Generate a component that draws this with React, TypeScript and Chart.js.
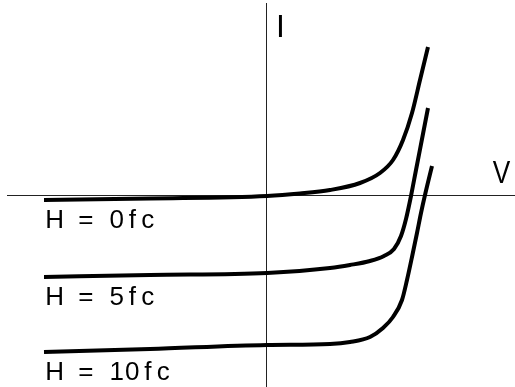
import React, { useEffect, useRef } from "react";
import { Chart, registerables } from "chart.js";

Chart.register(...registerables);

// Series labels
const seriesLabels = ["H = 0fc", "H = 5fc", "H = 10fc"];
const axisLabelI = "I";
const axisLabelV = "V";

// H = 0fc
const volt0 = [-2.23, -1.17, 0, 0.33, 0.63, 0.93, 1.13, 1.26, 1.36, 1.45, 1.53, 1.61];
const curr0 = [-0.04, -0.025, 0, 0.025, 0.06, 0.13, 0.23, 0.36, 0.56, 0.83, 1.16, 1.49];

// H = 5fc
const volt5 = [-2.23, -1.17, 0, 0.63, 0.83, 1.03, 1.17, 1.27, 1.34, 1.39, 1.44, 1.49, 1.55, 1.61];
const curr5 = [-0.81, -0.79, -0.77, -0.72, -0.69, -0.65, -0.6, -0.53, -0.4, -0.23, 0, 0.26, 0.57, 0.88];

// H = 10fc
const volt10 = [-2.23, -1.17, 0, 0.63, 0.83, 1.03, 1.16, 1.26, 1.35, 1.4, 1.45, 1.5, 1.54, 1.58, 1.65];
const curr10 = [-1.56, -1.53, -1.49, -1.48, -1.46, -1.41, -1.32, -1.21, -1.04, -0.84, -0.61, -0.37, -0.17, 0.01, 0.3];

const xMin = -2.6;
const xMax = 2.48;
const yMin = -1.91;
const yMax = 1.93;

const volts = [volt0, volt5, volt10];
const currs = [curr0, curr5, curr10];

export default function App() {
  const ref = useRef<HTMLCanvasElement | null>(null);

  useEffect(() => {
    if (!ref.current) return;

    const datasets = volts.map((v, s) => ({
      label: seriesLabels[s],
      data: v.map((x, k) => ({ x, y: currs[s][k] })),
      borderColor: "#000",
      borderWidth: 4,
      borderCapStyle: "butt" as const,
      pointRadius: 0,
      fill: false,
      cubicInterpolationMode: "monotone" as const,
    }));

    const decor = {
      id: "decor",
      beforeDatasetsDraw(chart: any) {
        const { ctx, chartArea, scales } = chart;
        const x0 = Math.round(scales.x.getPixelForValue(0)) - 0.5;
        const y0 = Math.round(scales.y.getPixelForValue(0)) - 0.5;
        ctx.save();
        ctx.strokeStyle = "#222";
        ctx.lineWidth = 1;
        ctx.beginPath();
        ctx.moveTo(chartArea.left, y0);
        ctx.lineTo(chartArea.right, y0);
        ctx.moveTo(x0, chartArea.top);
        ctx.lineTo(x0, chartArea.bottom);
        ctx.stroke();
        ctx.restore();
      },
      afterDatasetsDraw(chart: any) {
        const { ctx, chartArea, scales } = chart;
        ctx.save();
        ctx.fillStyle = "#000";
        ctx.textBaseline = "alphabetic";
        ctx.textAlign = "center";
        // series labels, monospaced cells
        ctx.font = "26px 'Liberation Sans', Arial, sans-serif";
        const pitch = 15.5;
        seriesLabels.forEach((lab, s) => {
          const px = scales.x.getPixelForValue(volts[s][0]) + 3;
          const py = scales.y.getPixelForValue(currs[s][0]) + 28;
          for (let k = 0; k < lab.length; k++) {
            const ch = lab[k];
            if (ch === " ") continue;
            ctx.fillText(ch, px + (k + 0.5) * pitch, py);
          }
        });
        // axis labels
        ctx.font = "32px 'Liberation Sans', Arial, sans-serif";
        const ax = scales.x.getPixelForValue(0);
        const ay = scales.y.getPixelForValue(0);
        ctx.fillText(axisLabelI, ax + 13.5, chartArea.top + 34);
        ctx.save();
        ctx.translate(chartArea.right - 13.5, ay - 13);
        ctx.scale(0.82, 1);
        ctx.fillText(axisLabelV, 0, 0);
        ctx.restore();
        ctx.restore();
      },
    };

    const chart = new Chart(ref.current, {
      type: "line",
      data: { datasets },
      options: {
        animation: false,
        responsive: true,
        maintainAspectRatio: false,
        layout: { padding: { left: 7, top: 3, right: 0, bottom: 0 } },
        plugins: { legend: { display: false }, tooltip: { enabled: false } },
        scales: {
          x: { type: "linear", min: xMin, max: xMax, display: false },
          y: { type: "linear", min: yMin, max: yMax, display: false },
        },
      },
      plugins: [decor],
    });
    return () => chart.destroy();
  }, []);

  return (
    <div style={{ position: "fixed", left: 0, top: 0, width: 515, height: 387, background: "#fff" }}>
      <canvas ref={ref} />
    </div>
  );
}
